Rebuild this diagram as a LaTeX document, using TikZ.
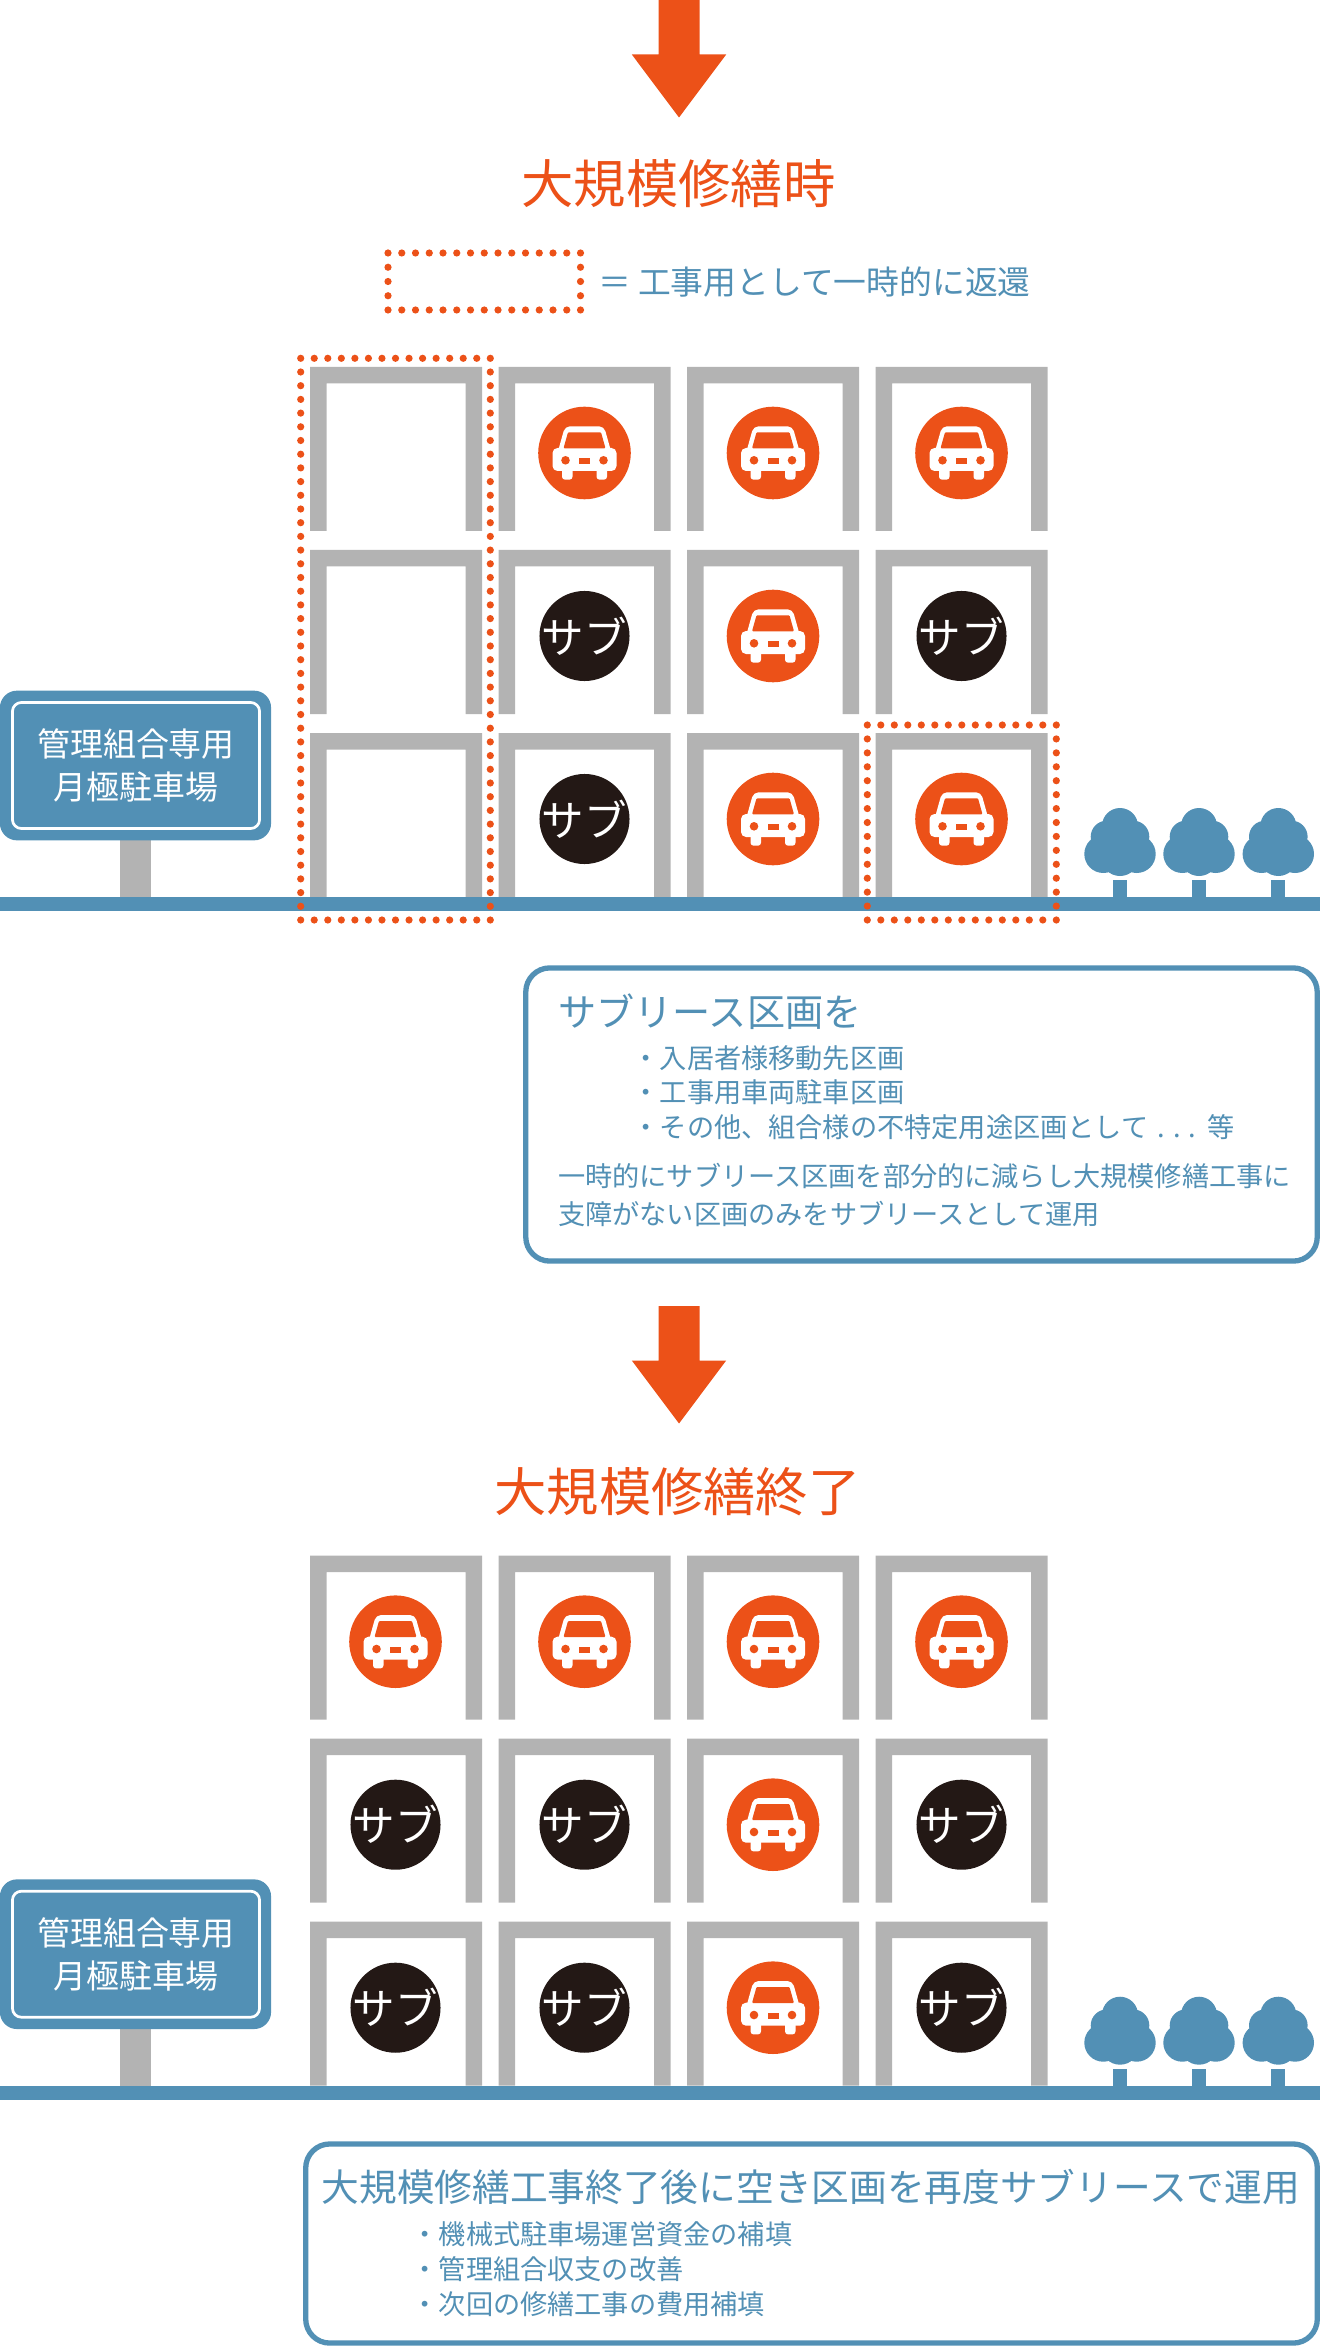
\documentclass[tikz,border=0pt]{standalone}
\usepackage{fontspec}
\setmainfont{Noto Sans CJK JP}

\begin{document}
\begin{tikzpicture}[x=0.01cm, y=-0.01cm]
  \definecolor{myorange}{HTML}{EC5118}
  \definecolor{myblue}{HTML}{5290B5}
  \definecolor{mygray}{HTML}{B3B3B3}
  \definecolor{myblack}{HTML}{231815}
  \tikzstyle{headline}=[text=myorange, font=\fontsize{14.88}{18}\selectfont, inner sep=0]
  \tikzstyle{boxhead}=[text=myblue, anchor=west, inner sep=0, font=\fontsize{10.72}{14}\selectfont]
  \tikzstyle{boxtext}=[text=myblue, anchor=west, inner sep=0, align=left, font=\fontsize{7.73}{9.9}\selectfont]
  \tikzstyle{notebox}=[draw=myblue, line width=0.053cm, rounded corners=0.24cm, fill=white, inner sep=0]
  \tikzstyle{subsign}=[circle, fill=myblack, text=white, minimum size=0.9cm, inner sep=-0.2cm, font=\fontsize{12.1}{14}\selectfont]
  \tikzstyle{reddot}=[fill=myorange]

  \tikzset{
    stall/.pic={\fill[mygray] (0,0) -- (172,0) -- (172,164) -- (155.5,164) -- (155.5,16.5)
      -- (16.5,16.5) -- (16.5,164) -- (0,164) -- cycle;},
    carsign/.pic={
      \fill[myorange] (0,0) circle[radius=46.3];
      \fill[white, rounded corners=0.05cm] (-32,-5) rectangle (32,18);
      \fill[white, rounded corners=0.05cm] (-27,0) -- (-19.5,-26.7) -- (19.5,-26.7) -- (27,0) -- cycle;
      \fill[white, rounded corners=0.03cm] (-22.5,10) rectangle (-12,26.7);
      \fill[white, rounded corners=0.03cm] (12,10) rectangle (22.5,26.7);
      \fill[myorange, rounded corners=0.01cm] (-21,-4.7) -- (-16.5,-20.7) -- (16.5,-20.7) -- (21,-4.7) -- cycle;
      \fill[myorange] (-19,7.3) circle[radius=4.3] (19,7.3) circle[radius=4.3];
      \fill[myorange] (-5.5,5.3) rectangle (5.5,11);
    },
    tree/.pic={
      \fill[myblue] (-7,-17) rectangle (7,0);
      \fill[myblue] (0,-71) circle[radius=18] (-13.3,-60.3) circle[radius=16] (13.3,-60.3) circle[radius=16]
        (-16.7,-43) circle[radius=19] (16.7,-43) circle[radius=19] (0,-40) circle[radius=19];
    },
    downarrow/.pic={\fill[myorange] (-20.5,0) -- (20.5,0) -- (20.5,54.5) -- (47.2,54.5) -- (0,117.5)
      -- (-47.2,54.5) -- (-20.5,54.5) -- cycle;}
  }

  % dots around a frame: corners, then the number of gaps across and down
  \newcommand{\dotframe}[6]{
    \foreach \i in {0,...,#5} {
      \fill[reddot] ({#1+(#3-#1)/#5*\i},#2) circle[radius=3.6];
      \fill[reddot] ({#1+(#3-#1)/#5*\i},#4) circle[radius=3.6];
    }
    \foreach \i in {1,...,\numexpr#6-1\relax} {
      \fill[reddot] (#1,{#2+(#4-#2)/#6*\i}) circle[radius=3.6];
      \fill[reddot] (#3,{#2+(#4-#2)/#6*\i}) circle[radius=3.6];
    }
  }

  % ground, sign, trees and the twelve stalls
  \newcommand{\parkinglot}[1]{
    \foreach \x in {310,498.5,687,875.5}
      \foreach \y in {367,550,733}
        \pic at (\x,\y) {stall};
    \fill[mygray] (120,840) rectangle (151.3,900);
    \fill[myblue] (0,897) rectangle (1320,911);
    \foreach \x in {1120,1199,1278.3}
      \pic at (\x,897) {tree};
    \node[fill=myblue, rounded corners=0.17cm, minimum width=2.71cm, minimum height=1.496cm, inner sep=0] (#1board) at (135.5,765.5) {};
    \node[draw=white, line width=0.027cm, rounded corners=0.09cm, minimum width=2.47cm, minimum height=1.26cm, inner sep=0,
      text=white, align=center, font=\fontsize{9.37}{12.2}\selectfont] (#1label) at (136,765.5) {管理組合専用\\月極駐車場};
  }

  \useasboundingbox (0,0) rectangle (1320,2346);

  \pic at (679,0) {downarrow};
  \node[headline] (title_works) at (678.5,184) {大規模修繕時};
  \dotframe{388}{253}{580.5}{310}{14}{4}
  \node[text=myblue, anchor=west, inner sep=0, font=\fontsize{9.33}{12}\selectfont] (legend) at (598,282) {＝\hspace{0.065cm}工事用として一時的に返還};

  \parkinglot{works}
  \foreach \x/\y in {584.5/453,773/453,961.5/453,773/636,773/819,961.5/819}
    \pic at (\x,\y) {carsign};
  \foreach \x/\y in {584.5/636,961.5/636,584.5/819}
    \node[subsign] (sub-\x-\y) at (\x,\y) {サブ};
  \dotframe{300.7}{358.3}{490.3}{920}{14}{41}
  \dotframe{867.3}{725}{1056.3}{920}{14}{14}

  \node[notebox, minimum width=7.91cm, minimum height=2.93cm] (box_works) at (921.5,1114.5) {};
  \node[boxhead, font=\fontsize{10.85}{14}\selectfont] (works_head) at (557.5,1011.7) {サブリース区画を};
  \node[boxtext] (works_items) at (632,1092.7) {・入居者様移動先区画\\・工事用車両駐車区画\\・その他、組合様の不特定用途区画として\hspace{0.03cm} . . . \hspace{0.03cm}等};
  \node[boxtext, font=\fontsize{7.73}{10.9}\selectfont] (works_note) at (557.5,1195) {一時的にサブリース区画を部分的に減らし大規模修繕工事に\\支障がない区画のみをサブリースとして運用};

  \pic at (679,1306) {downarrow};
  \node[headline] (title_done) at (677.5,1492) {大規模修繕終了};

  \begin{scope}[shift={(0,1188.7)}]
    \parkinglot{done}
    \foreach \x/\y in {395.5/453,584.5/453,773/453,961.5/453,773/636,773/819}
      \pic at (\x,\y) {carsign};
    \foreach \x/\y in {395.5/636,584.5/636,961.5/636,395.5/819,584.5/819,961.5/819}
      \node[subsign] (subdone-\x-\y) at (\x,\y) {サブ};
  \end{scope}

  \node[notebox, minimum width=10.11cm, minimum height=1.99cm] (box_done) at (811.5,2243.5) {};
  \node[boxhead] (done_head) at (321,2187) {大規模修繕工事終了後に空き区画を再度サブリースで運用};
  \node[boxtext, font=\fontsize{7.73}{9.96}\selectfont] (done_items) at (411,2269) {・機械式駐車場運営資金の補填\\・管理組合収支の改善\\・次回の修繕工事の費用補填};
\end{tikzpicture}
\end{document}
